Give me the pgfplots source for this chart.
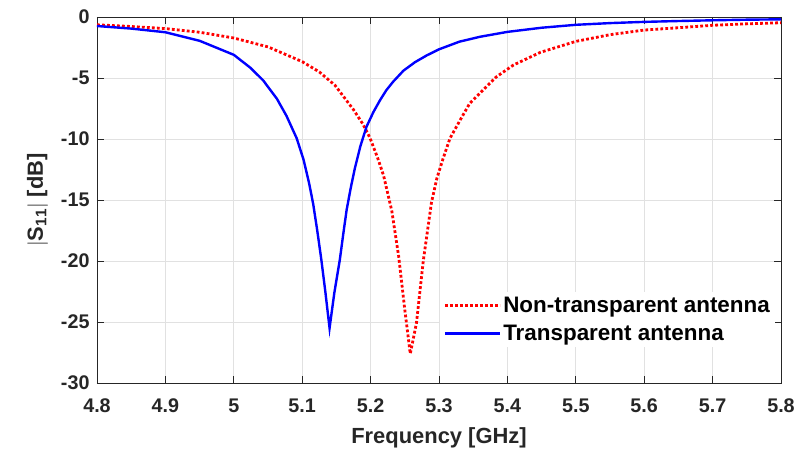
\documentclass[border=0pt]{standalone}
\usepackage{fontspec}
\setmainfont{Liberation Sans}
\usepackage{pgfplots}
\pgfplotsset{compat=1.18}
\definecolor{gridgray}{RGB}{225,225,225}
\definecolor{axgray}{RGB}{38,38,38}
\begin{document}
\begin{tikzpicture}
\useasboundingbox (-97bp,-71bp) rectangle (700bp,383bp);
\begin{axis}[
  at={(0,0)}, anchor=south west,
  scale only axis, width=684bp, height=366bp,
  xmin=4.8, xmax=5.8, ymin=-30, ymax=0,
  xtick={4.8,4.9,5.0,5.1,5.2,5.3,5.4,5.5,5.6,5.7,5.8},
  ytick={-30,-25,-20,-15,-10,-5,0},
  /pgf/number format/fixed,
  /pgf/number format/precision=1,
  /pgf/number format/assume math mode=true,
  tick label style={font=\bfseries\fontsize{19.8}{22}\selectfont, text=axgray},
  xticklabel style={yshift=-12.5bp},
  yticklabel style={xshift=-4bp},
  xlabel={Frequency [GHz]},
  ylabel={$|$S$_{\mathbf{11}}|$ [dB]},
  label style={font=\bfseries\fontsize{22}{24}\selectfont, text=axgray},
  xlabel style={yshift=-8bp},
  ylabel style={yshift=6bp},
  grid=major,
  major grid style={gridgray, line width=0.8bp},
  axis line style={axgray, line width=0.8bp},
  major tick length=7bp,
  tick style={axgray, line width=0.8bp},
  tick align=inside,
  legend cell align=left,
  legend style={at={(1,0.262)}, anchor=north east, xshift=-6bp, yshift=-5bp,
    draw=none, fill=white,
    font=\bfseries\fontsize{22.5}{25}\selectfont, inner sep=3bp,
    row sep=7bp},
  legend image code/.code={\draw[#1] (0bp,0bp) -- (55bp,0bp);},
]
\addplot[red, line width=2.8bp, dash pattern=on 2.8bp off 2.2bp] coordinates {
(4.80,-0.64) (4.85,-0.78) (4.90,-0.95) (4.95,-1.25) (5.00,-1.72) (5.05,-2.45)
(5.10,-3.66) (5.125,-4.5) (5.148,-5.6) (5.175,-7.6) (5.189,-8.8) (5.199,-9.9)
(5.210,-11.5) (5.219,-13.0) (5.231,-15.9) (5.241,-19.6) (5.250,-24.0) (5.258,-27.6)
(5.267,-25.1) (5.277,-20.0) (5.289,-15.2) (5.297,-13.2) (5.306,-11.6)
(5.316,-9.95) (5.331,-8.44) (5.345,-7.07) (5.365,-5.95) (5.384,-4.9)
(5.409,-3.93) (5.448,-2.9) (5.50,-2.0) (5.55,-1.45) (5.60,-1.07)
(5.65,-0.88) (5.70,-0.68) (5.75,-0.56) (5.80,-0.47)
};
\addlegendentry{Non-transparent antenna}
\addplot[blue, line width=2.4bp] coordinates {
(4.80,-0.74) (4.85,-0.95) (4.90,-1.25) (4.95,-1.95) (5.00,-3.1) (5.024,-4.15)
(5.043,-5.2) (5.063,-6.7) (5.077,-8.1) (5.092,-9.95) (5.102,-11.7)
(5.110,-13.6) (5.116,-15.3) (5.122,-17.5) (5.128,-19.9) (5.134,-22.6)
(5.140,-25.5) (5.147,-22.6) (5.155,-19.9) (5.160,-17.8) (5.165,-15.8)
(5.171,-14.0) (5.177,-12.4) (5.185,-10.6) (5.194,-9.0) (5.204,-7.8)
(5.214,-6.8) (5.223,-6.0) (5.233,-5.3) (5.248,-4.4) (5.265,-3.7)
(5.282,-3.15) (5.30,-2.65) (5.33,-2.02) (5.36,-1.62) (5.40,-1.22)
(5.45,-0.88) (5.50,-0.64) (5.55,-0.50) (5.60,-0.40) (5.65,-0.33)
(5.70,-0.27) (5.75,-0.22) (5.80,-0.19)
};
\addlegendentry{Transparent antenna}
\end{axis}
\end{tikzpicture}
\end{document}
